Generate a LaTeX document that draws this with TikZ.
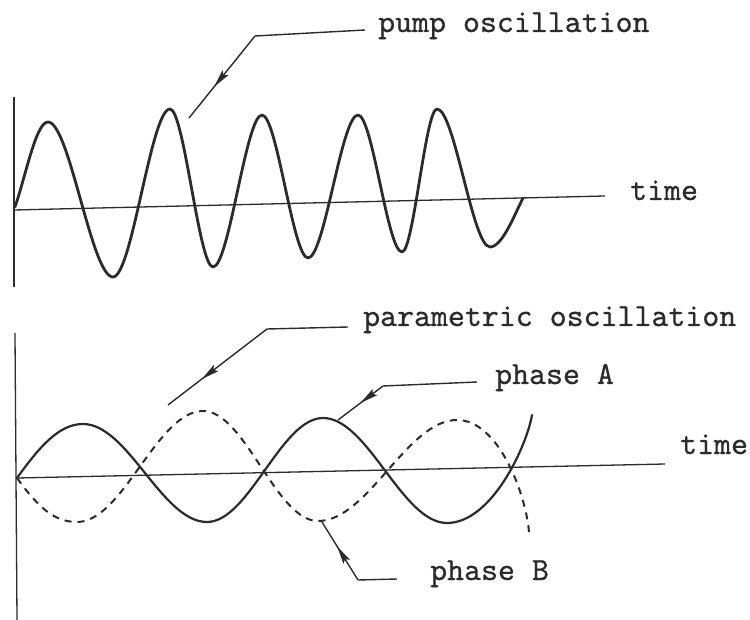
\documentclass[tikz,border=0pt]{standalone}
\usepackage{fontspec}
\setmonofont{lmmono10-regular.otf}[FakeBold=0.6]
\usetikzlibrary{arrows.meta,decorations.markings}
\definecolor{ink}{HTML}{2B2B2B}
\begin{document}
\begin{tikzpicture}[x=1pt,y=-1pt,
  axisline/.style={draw=ink,line width=1.3pt},
  pumpwave/.style={draw=ink,line width=2.8pt,line cap=round,line join=round},
  solidA/.style={draw=ink,line width=2.2pt,line cap=round,line join=round},
  dashB/.style={draw=ink,line width=2pt,dash pattern=on 7pt off 6pt},
  leader/.style={draw=ink,line width=1.4pt},
  midarrow/.style={postaction={decorate},decoration={markings,
     mark=at position #1 with {\arrow[scale=1.5]{Stealth[length=12pt,width=5pt,inset=2pt]}}}},
  lbl/.style={font=\fontsize{32.3}{36}\selectfont\ttfamily,text=ink,inner sep=0pt,anchor=base west}]
\useasboundingbox[fill=white] (0,0) rectangle (750,620);

% ---------- top panel ----------
\coordinate (vt1) at (14,97);
\coordinate (vt2) at (14,287);
\coordinate (ht1) at (14,210);
\coordinate (ht2) at (605,196);
\draw[axisline] (vt1) -- (vt2);
\draw[axisline] (ht1) -- (ht2);
\node[lbl] (time1) at (630,200) {time};

\draw[pumpwave] (15,207) .. controls (26,175) and (36,122) .. (48,122)
  .. controls (69.5,122) and (91.5,277) .. (113,277)
  .. controls (132,277) and (151,109) .. (170,109)
  .. controls (184,109) and (199,267) .. (213,267)
  .. controls (229,267) and (246,115) .. (262,115)
  .. controls (277,115) and (293,258) .. (308,258)
  .. controls (324.5,258) and (341.5,115) .. (358,115)
  .. controls (372.5,115) and (387.5,252) .. (402,252)
  .. controls (413.5,252) and (425.5,109) .. (437,109)
  .. controls (454.5,109) and (472.5,247) .. (490,247)
  .. controls (502,247) and (514,216) .. (523,198);

\node[lbl] (pump) at (378,32) {pump oscillation};
\coordinate (pumpend) at (365,30);
\coordinate (pumpknee) at (255,36);
\coordinate (pumptip) at (189,118);
\draw[leader] (pumpend) -- (pumpknee);
\draw[leader,midarrow=0.62] (pumpknee) -- (pumptip);

% ---------- bottom panel ----------
\coordinate (vb1) at (15,333);
\coordinate (vb2) at (17,620);
\coordinate (hb1) at (17,478);
\coordinate (hb2) at (665,464);
\draw[axisline] (vb1) -- (vb2);
\draw[axisline] (hb1) -- (hb2);
\node[lbl] (time2) at (680,454) {time};

\draw[solidA] (17,478) .. controls (38,449) and (58,424) .. (83,424)
  .. controls (128,424) and (162,522) .. (207,522)
  .. controls (249,522) and (281,418) .. (323,418)
  .. controls (368,418) and (402,523) .. (447,523)
  .. controls (492,523) and (527,445) .. (532,415);
\draw[dashB] (17,478) .. controls (38,507) and (54,522) .. (77,522)
  .. controls (123,522) and (157,411) .. (203,411)
  .. controls (245,411) and (276,521) .. (318,521)
  .. controls (368,521) and (407,420) .. (457,420)
  .. controls (499,420) and (526,495) .. (529,532);

\node[lbl] (param) at (363,326) {parametric oscillation};
\coordinate (parend) at (348,327);
\coordinate (parknee) at (267,329);
\coordinate (partip) at (168,405);
\draw[leader] (parend) -- (parknee);
\draw[leader,midarrow=0.66] (parknee) -- (partip);

\node[lbl] (phA) at (495,384) {phase A};
\coordinate (aend) at (477,382);
\coordinate (aknee) at (383,386);
\coordinate (atip) at (338,420);
\draw[leader] (aend) -- (aknee);
\draw[leader,midarrow=0.5] (aknee) -- (atip);

\node[lbl] (phB) at (430,580) {phase B};
\coordinate (bend) at (397,579);
\coordinate (bknee) at (358,580);
\coordinate (btip) at (322,522);
\draw[leader] (bend) -- (bknee);
\draw[leader,midarrow=0.58] (bknee) -- (btip);
\end{tikzpicture}
\end{document}
